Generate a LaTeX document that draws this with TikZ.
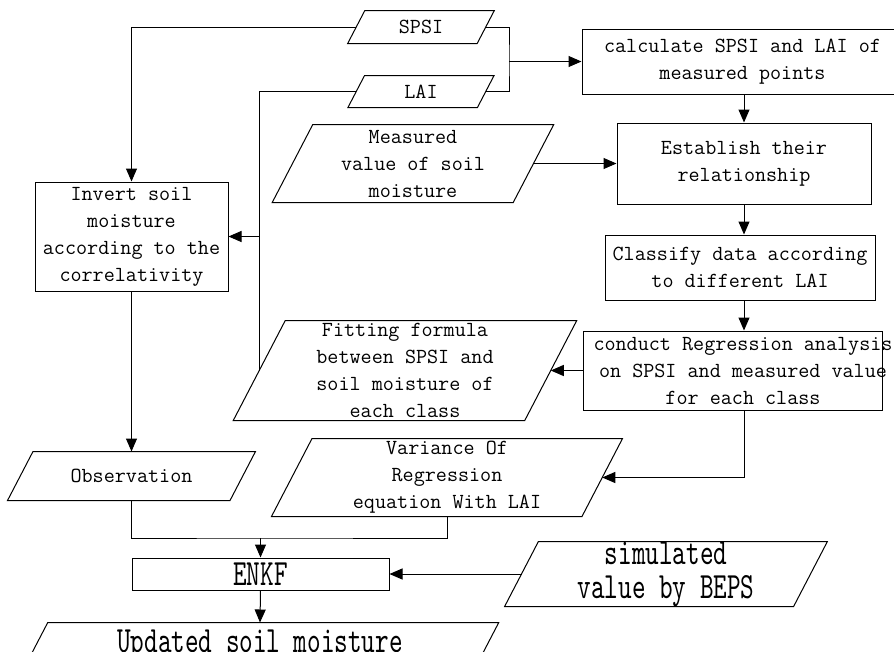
\documentclass[tikz,border=0pt]{standalone}
\usepackage{fontspec}
\usepackage{tikz}
\usetikzlibrary{positioning,arrows.meta,calc}
\newfontfamily\tallfont{lmmono10-regular.otf}[FakeStretch=0.7]

\begin{document}
\begin{tikzpicture}[x=1pt,y=-1pt,line width=1pt]
\useasboundingbox (0,0) rectangle (894,651);
\tikzstyle{every node}=[inner sep=0pt,font=\ttfamily\fontsize{21.5}{27}\selectfont];
\tikzstyle{proc}=[draw,shape=rectangle];
\tikzstyle{data}=[shape=rectangle];
\tikzstyle{txt}=[align=center];
\tikzstyle{big}=[font=\tallfont\fontsize{37}{34}\selectfont];
\tikzstyle{arr}=[-{Triangle[length=13pt,width=11pt]}];

% input data
\node[data,minimum width=128.5pt,minimum height=32pt,label={[txt]center:SPSI}] (spsi) at (421,27) {};
\node[data,minimum width=128.5pt,minimum height=31pt,label={[txt]center:LAI}] (lai) at (421,91.5) {};
\node[data,minimum width=240pt,minimum height=77pt,label={[txt]center:{Measured\\value of soil\\moisture}}] (meas) at (413,163.5) {};
\node[data,minimum width=290.5pt,minimum height=99pt,label={[txt]center:{Fitting formula\\between SPSI and\\soil moisture of\\each class}}] (fit) at (405,370.5) {};
\node[data,minimum width=221.5pt,minimum height=48pt,label={[txt]center:Observation}] (obs) at (131.5,476) {};
\node[data,minimum width=309.5pt,minimum height=77pt,label={[txt]center:{Variance Of\\Regression\\equation With LAI}}] (var) at (447,477.5) {};
\node[data,minimum width=288pt,minimum height=64pt,label={[txt,big]center:{simulated\\value by BEPS}}] (sim) at (666,574) {};
\node[data,minimum width=450pt,minimum height=50pt,label={[txt,big,yshift=3pt]center:Updated soil moisture}] (upd) at (260,648) {};

% processing steps
\node[proc,minimum width=321pt,minimum height=65pt,label={[txt]center:{calculate SPSI and LAI of\\measured points}}] (calc) at (742.5,61.5) {};
\node[proc,minimum width=254pt,minimum height=81pt,label={[txt]center:{Establish their\\relationship}}] (est) at (744,163.5) {};
\node[proc,minimum width=270pt,minimum height=65pt,label={[txt]center:{Classify data according\\to different LAI}}] (cls) at (740,267.5) {};
\node[proc,minimum width=299pt,minimum height=79pt,label={[txt,xshift=10.5pt]center:{conduct Regression analysis\\on SPSI and measured value\\for each class}}] (con) at (732.5,370.5) {};
\node[proc,minimum width=193pt,minimum height=109pt,label={[txt]center:{Invert soil\\moisture\\according to the\\correlativity}}] (inv) at (131.5,236.5) {};
\node[proc,minimum width=257pt,minimum height=32pt,label={[txt,big]center:ENKF}] (enkf) at (260.5,574) {};

% slanted outlines of the data nodes
\foreach \d in {spsi,lai,meas,fit,obs,var,sim,upd}
  \draw let \p1=(\d.north), \p2=(\d.south), \n1={0.26*(\y1-\y2)} in
    ([xshift=\n1]\d.north west) -- ([xshift=\n1]\d.north east)
    -- ([xshift=-\n1]\d.south east) -- ([xshift=-\n1]\d.south west) -- cycle;

\coordinate (jn) at (509,61.5);
\coordinate (col) at (744,0);
\coordinate (jn2) at (260.5,538);

\draw[arr] (spsi.west) -| (inv.north);
\draw (spsi.east) -| (jn) |- (lai.east);
\draw[arr] (jn) -- (calc.west);
\draw (lai.west) -| (fit.west);
\draw[arr] (inv.east -| fit.west) -- (inv.east);
\draw[arr] (calc.south -| col) -- (est.north -| col);
\draw[arr] (meas.east) -- (est.west);
\draw[arr] (est.south -| col) -- (cls.north -| col);
\draw[arr] (cls.south -| col) -- (con.north -| col);
\draw[arr] (con.west) -- (fit.east);
\draw[arr] (con.south -| col) |- (var.east);
\draw[arr] (inv.south) -- (obs.north);
\draw (obs.south) |- (jn2) -| (var.south);
\draw[arr] (jn2) -- (enkf.north);
\draw[arr] (sim.west) -- (enkf.east);
\draw[arr] (enkf.south) -- (upd.north);
\end{tikzpicture}
\end{document}
